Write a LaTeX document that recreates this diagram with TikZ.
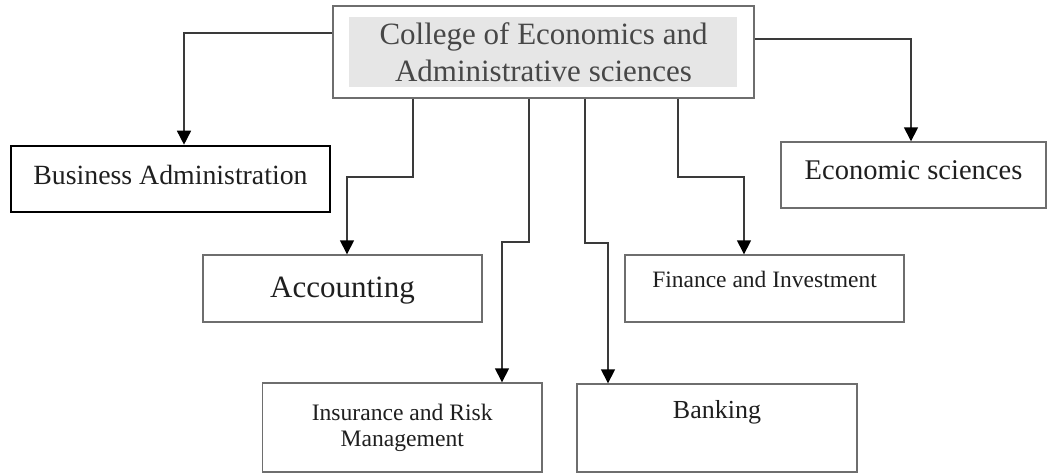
\documentclass[tikz,border=0pt]{standalone}
\usepackage{fontspec}
\setmainfont{Liberation Serif}
\usetikzlibrary{arrows.meta}
\definecolor{boxgray}{HTML}{6E6E6E}
\definecolor{linegray}{HTML}{3A3A3A}
\definecolor{backgray}{HTML}{E6E6E6}
\tikzset{
  unit/.style={draw=boxgray, line width=1.4pt, inner sep=0pt, align=center, text=black!88},
  conn/.style={draw=linegray, line width=1.5pt, -{Triangle[width=14pt,length=14pt,color=black]}},
}
\begin{document}
\begin{tikzpicture}[x=1pt,y=-1pt]
            \useasboundingbox (0,0) rectangle (1048,474);

            % 学院与各系
            \fill[backgray] (349,17) rectangle (737,87);
            \node[unit, minimum width=421pt, minimum height=92pt, text=black!72,
                font=\fontsize{31}{37}\selectfont] (college) at (543.5,52)
                {College of Economics and\\Administrative sciences};

            \node[unit, draw=black, line width=2.6pt, minimum width=319pt, minimum height=66pt,
                font=\fontsize{27.8}{33}\selectfont, text height=20pt, text depth=10pt]
                (bus) at (170.5,179) {Business Administration};
            \node[unit, minimum width=279pt, minimum height=67pt,
                font=\fontsize{31}{37}\selectfont, text height=22pt, text depth=5pt]
                (acc) at (342.5,288.5) {Accounting};
            \node[unit, minimum width=265pt, minimum height=66pt,
                font=\fontsize{28.5}{34}\selectfont, text height=20pt, text depth=12pt]
                (eco) at (913.5,175) {Economic sciences};
            \node[unit, minimum width=279pt, minimum height=67pt,
                font=\fontsize{23.5}{28}\selectfont, text height=16pt, text depth=19pt]
                (fin) at (764.5,288.5) {Finance and Investment};
            \node[unit, minimum width=279.5pt, minimum height=89pt,
                font=\fontsize{23.6}{26}\selectfont]
                (ins) at (402.25,427.5) {Insurance and Risk\\Management};
            \node[unit, minimum width=280pt, minimum height=88pt,
                font=\fontsize{26}{31}\selectfont, text height=18pt, text depth=38pt]
                (ban) at (717,428) {Banking};

            \coordinate (kbus) at (184,33);
            \coordinate (keco) at (911,39);
            \coordinate (kacc) at (413,177);
            \coordinate (kins) at (529,242);
            \coordinate (kban) at (585,243);
            \coordinate (kfin) at (678,177);

            \draw[conn] (college.west |- kbus) -| (kbus |- bus.north);
            \draw[conn] (college.east |- keco) -| (keco |- eco.north);
            \draw[conn] (college.south -| kacc) -- (kacc) -| ([xshift=4.5pt]acc.north);
            \draw[conn] (college.south -| kins) -- (kins) -| ([xshift=99.75pt]ins.north);
            \draw[conn] (college.south -| kban) -- (kban) -| ([xshift=-109pt]ban.north);
            \draw[conn] (college.south -| kfin) -- (kfin) -| ([xshift=-20.5pt]fin.north);
        \end{tikzpicture}
\end{document}
